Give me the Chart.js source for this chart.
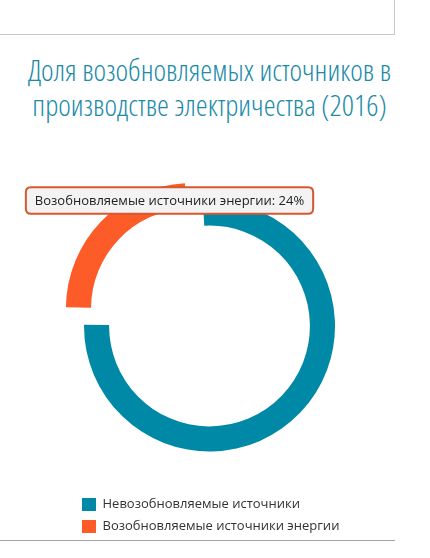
<!DOCTYPE html>
<html lang="ru">
<head>
    <meta charset="UTF-8">
    <title>Доля возобновляемых источников</title>
    <script src="https://cdn.jsdelivr.net/npm/chart.js"></script>
    <style>
        body {
            margin: 0;
            background: #fff;
            width: 430px;
            height: 558px;
            overflow: hidden;
            position: relative;
            font-family: 'Open Sans', sans-serif;
        }
        .topbox {
            position: absolute;
            left: -10px;
            top: -10px;
            width: 405px;
            height: 45px;
            box-sizing: border-box;
            border: 1px solid #c9c9c9;
        }
        h2 {
            position: absolute;
            left: 0;
            top: 52px;
            width: 419px;
            margin: 0;
            text-align: center;
            font-family: 'Open Sans', sans-serif;
            font-weight: 300;
            font-stretch: 75%;
            font-size: 30px;
            line-height: 35px;
            color: #1b8ba8;
        }
        .chartbox {
            position: absolute;
            left: 0;
            top: 130px;
            width: 346px;
            height: 413px;
        }
        .bottomline {
            position: absolute;
            left: 0;
            top: 540px;
            width: 395px;
            height: 1px;
            background: #a3a3a3;
        }
    </style>
</head>
<body>
    <div class="topbox"></div>
    <h2>Доля возобновляемых источников в<br>производстве электричества (2016)</h2>
    <div class="chartbox"><canvas id="shareChart"></canvas></div>
    <div class="bottomline"></div>
    <script>
        // data
        const labels = ['Невозобновляемые источники', 'Возобновляемые источники энергии'];
        const shares = [76, 24];
        const colors = ['#0089a7', '#fd5b27'];
        const highlighted = 1;

        // tooltip sits above the ring, a bit left of centre
        Chart.Tooltip.positioners.aboveRing = function(elements) {
            if (!elements.length) return false;
            const el = elements[0].element;
            return { x: el.x - 40, y: el.y - el.outerRadius };
        };

        const ctx = document.getElementById('shareChart').getContext('2d');
        const chart = new Chart(ctx, {
            type: 'doughnut',
            data: {
                labels: labels,
                datasets: [{
                    data: shares,
                    backgroundColor: colors,
                    hoverBackgroundColor: colors,
                    borderWidth: 0,
                    offset: shares.map((v, i) => i === highlighted ? 100 : 0)
                }]
            },
            options: {
                responsive: true,
                maintainAspectRatio: false,
                animation: false,
                events: [],
                radius: 125.5,
                cutout: '80%',
                rotation: -3,
                layout: {
                    padding: { left: 73, right: 0, top: 33, bottom: 0 }
                },
                plugins: {
                    legend: {
                        position: 'bottom',
                        align: 'start',
                        labels: {
                            boxWidth: 14,
                            boxHeight: 13,
                            padding: 9,
                            color: '#333',
                            font: { family: 'Open Sans', size: 13 }
                        }
                    },
                    tooltip: {
                        enabled: true,
                        animation: false,
                        position: 'aboveRing',
                        xAlign: 'center',
                        yAlign: 'center',
                        caretSize: 0,
                        caretPadding: 0,
                        displayColors: false,
                        backgroundColor: '#f3f3f3',
                        borderColor: '#d5582f',
                        borderWidth: 2,
                        cornerRadius: 5,
                        padding: { left: 9, right: 9, top: 6, bottom: 5 },
                        bodyColor: '#222',
                        bodyFont: { family: 'Open Sans', size: 13 },
                        callbacks: {
                            title: () => '',
                            label: (c) => c.label + ': ' + c.parsed + '%'
                        }
                    }
                }
            }
        });

        chart.tooltip.setActiveElements([{ datasetIndex: 0, index: highlighted }], { x: 0, y: 0 });
        chart.update();
    </script>
</body>
</html>
